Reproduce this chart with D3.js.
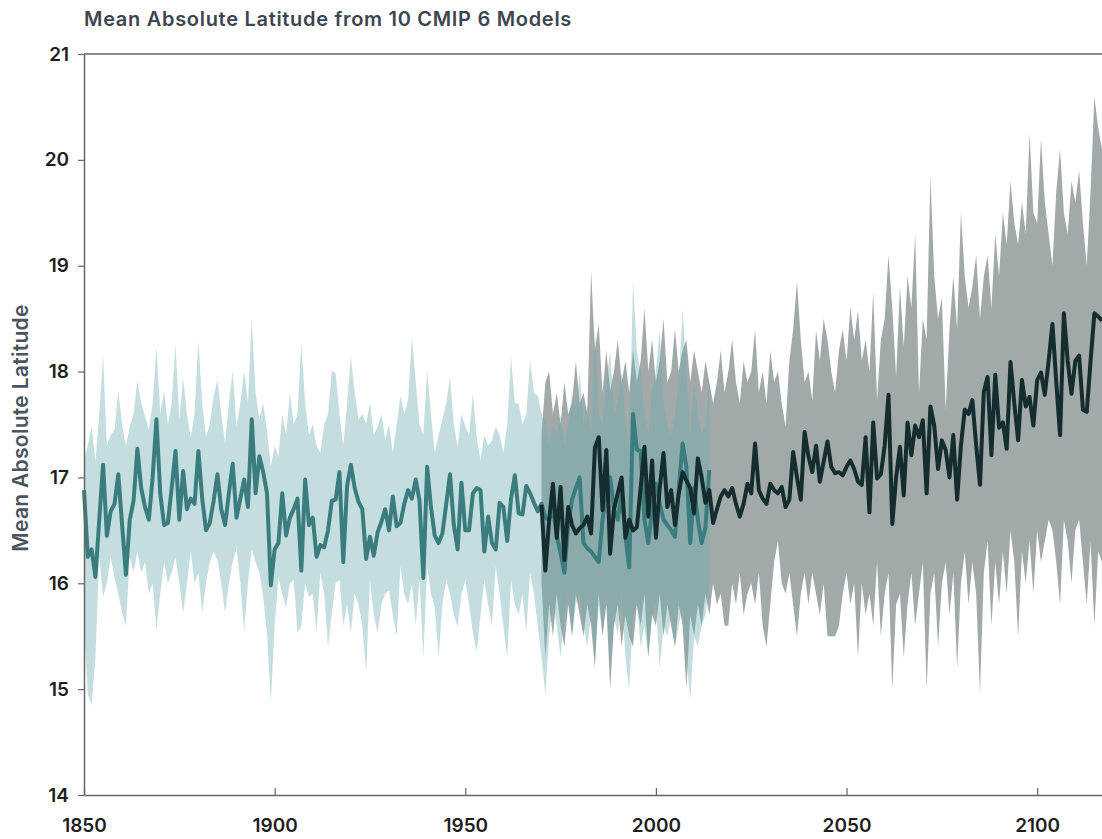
<!DOCTYPE html>
<html>
<head>
<meta charset="utf-8">
<script src="https://cdn.jsdelivr.net/npm/d3@7"></script>
<style>
  body { margin: 0; background: #fff; }
  svg text { font-family: Inter, "Noto Sans", sans-serif; }
</style>
</head>
<body>
<div id="chart"></div>
<script>
// historical runs, 1850-2014
var hist_start = 1850
var hist_mean = [16.88,16.25,16.32,16.06,16.6,17.12,16.45,16.68,16.75,17.03,
  16.55,16.08,16.6,16.78,17.27,16.9,16.72,16.6,17.0,17.55,
  16.85,16.55,16.57,16.9,17.25,16.6,17.06,16.7,16.8,16.75,
  17.25,16.8,16.5,16.57,16.78,17.03,16.7,16.55,16.85,17.13,
  16.62,16.8,16.98,16.72,17.55,16.85,17.2,17.05,16.85,15.98,
  16.32,16.38,16.85,16.45,16.62,16.7,16.8,16.12,16.98,16.55,
  16.62,16.25,16.36,16.34,16.5,16.78,16.79,17.05,16.2,16.92,
  17.12,16.9,16.77,16.7,16.23,16.44,16.26,16.48,16.58,16.7,
  16.5,16.82,16.54,16.57,16.75,16.88,16.8,16.98,16.78,16.05,
  17.1,16.72,16.45,16.38,16.47,16.75,17.03,16.55,16.32,16.95,
  16.5,16.5,16.85,16.9,16.88,16.3,16.63,16.38,16.32,16.76,
  16.72,16.4,16.8,17.02,16.66,16.65,16.92,16.85,16.76,16.68,
  16.75,16.62,16.6,16.7,16.45,16.28,16.1,16.55,16.79,16.9,
  17.0,16.38,16.33,16.3,16.25,16.2,16.6,16.85,17.0,16.7,
  16.6,16.85,16.45,16.15,17.6,17.26,17.25,16.6,16.38,16.7,
  16.94,16.75,16.6,16.55,16.5,16.44,16.9,17.32,17.1,16.38,
  16.9,16.6,16.38,16.53,17.07]
var hist_hi = [17.15,17.3,17.48,17.15,17.6,18.15,17.3,17.4,17.45,17.82,
  17.5,17.3,17.48,17.6,17.92,17.7,17.58,17.45,17.7,18.23,
  17.6,17.82,17.5,17.7,18.26,17.55,17.94,17.6,17.38,17.6,
  18.3,17.7,17.38,17.5,17.77,17.92,17.6,17.32,17.7,18.01,
  17.48,17.7,18.01,17.7,18.5,17.8,17.55,17.7,17.44,17.1,
  17.3,17.2,17.6,17.4,17.8,17.5,17.6,18.27,17.7,17.4,
  17.5,17.3,17.23,17.5,17.6,18.01,17.98,17.6,17.3,17.7,
  18.14,17.8,17.55,17.6,17.51,17.7,17.4,17.48,17.6,17.36,
  17.5,17.23,17.5,17.77,17.6,17.73,18.33,17.9,17.5,17.4,
  18.01,17.6,17.23,17.4,17.55,17.7,17.95,17.5,17.29,17.6,
  17.48,17.4,17.79,17.38,17.16,17.4,17.3,17.35,17.48,17.4,
  17.23,17.5,18.14,17.7,17.7,17.5,17.6,18.11,17.8,17.77,
  17.6,17.5,17.3,17.5,17.4,17.6,17.3,17.5,17.8,17.6,
  18.0,17.5,17.7,17.4,18.4,17.6,17.5,17.9,18.2,17.6,
  17.7,18.0,17.5,17.3,18.85,18.2,18.0,17.6,17.4,17.8,
  18.0,18.4,17.7,17.5,17.4,17.6,17.9,18.6,18.0,17.4,
  17.9,17.6,17.4,17.5,17.9]
var hist_lo = [15.6,14.95,14.85,15.3,16.25,15.87,16.0,16.25,16.05,15.9,
  15.72,15.6,16.25,16.1,16.3,16.1,16.2,15.9,16.0,15.56,
  15.9,16.2,16.0,16.1,16.25,16.0,15.72,16.0,16.3,16.0,
  16.1,15.72,16.0,16.2,16.3,16.22,16.0,15.72,16.0,16.2,
  16.33,16.0,15.55,16.0,16.33,16.2,16.1,15.87,15.53,14.87,
  15.6,16.06,15.9,15.77,16.0,16.03,15.53,15.6,16.0,15.87,
  15.9,15.53,16.1,15.9,15.4,15.72,16.0,16.03,15.6,15.8,
  15.53,15.9,15.8,15.6,15.15,16.03,15.7,15.53,15.8,15.9,
  15.93,15.7,15.5,16.16,15.9,15.8,16.0,15.6,16.03,15.3,
  16.16,15.9,15.77,15.3,15.8,16.03,15.9,15.7,15.59,15.9,
  16.03,15.8,15.53,15.35,15.7,16.03,15.8,15.6,16.16,15.9,
  15.59,15.3,16.03,15.8,15.7,15.9,15.53,16.1,15.9,15.6,
  15.3,14.95,15.5,15.8,15.6,15.3,15.7,15.9,15.5,15.8,
  15.9,15.6,15.4,15.7,15.3,15.8,15.5,15.9,15.2,15.7,
  15.5,15.9,15.3,15.0,15.7,15.8,15.4,15.6,15.3,15.7,
  15.8,15.2,15.6,15.5,15.7,15.4,15.6,15.8,15.3,14.9,
  15.5,15.4,15.6,15.7,16.0]

// scenario runs, 1970 onward
var proj_start = 1970
var proj_mean = [16.74,16.12,16.6,16.94,16.43,16.91,16.22,16.72,16.55,16.47,
  16.52,16.55,16.63,16.47,17.28,17.38,16.69,17.26,16.28,16.7,
  16.85,17.0,16.43,16.6,16.5,16.53,16.9,17.29,16.63,17.16,
  16.43,16.9,17.23,16.72,16.88,16.55,16.85,17.05,16.97,16.9,
  16.66,17.18,17.0,16.76,16.88,16.57,16.7,16.82,16.88,16.82,
  16.9,16.75,16.63,16.75,16.94,16.85,17.32,16.88,16.8,16.75,
  16.94,16.88,16.85,16.91,16.72,16.79,17.24,17.0,16.79,17.43,
  17.2,17.05,17.3,16.96,17.15,17.34,17.1,17.04,17.05,17.02,
  17.1,17.16,17.08,16.96,16.93,17.38,16.67,17.52,16.99,17.03,
  17.3,17.78,16.56,17.0,17.29,16.83,17.52,17.21,17.49,17.38,
  17.54,16.85,17.67,17.49,17.08,17.35,17.26,17.0,17.4,16.79,
  17.3,17.64,17.6,17.73,17.3,16.93,17.81,17.95,17.21,17.97,
  17.47,17.52,17.27,18.09,17.7,17.35,17.92,17.67,17.76,17.49,
  17.92,17.99,17.78,18.1,18.45,17.9,17.4,18.55,18.1,17.79,
  18.1,18.15,17.64,17.62,18.1,18.55,18.52,18.48]
var proj_hi = [17.4,17.9,18.0,17.6,17.8,17.5,17.9,17.6,17.7,18.1,
  17.7,17.8,17.6,18.95,18.2,18.45,17.8,18.2,17.82,18.0,
  18.3,17.9,18.1,17.8,18.2,17.9,18.1,18.6,18.0,18.3,
  17.9,18.1,18.5,17.9,18.0,18.4,18.0,18.2,18.3,17.9,
  18.2,18.0,17.8,18.1,17.9,17.7,17.9,18.2,17.8,18.0,
  18.3,17.9,17.7,18.1,17.9,18.0,18.4,17.8,18.0,17.7,
  18.2,17.9,18.0,17.7,17.48,18.1,18.4,18.85,18.3,17.9,
  18.0,17.73,18.39,18.1,18.5,18.3,18.0,17.8,18.2,18.4,
  18.1,18.61,18.3,18.58,18.1,18.3,18.0,18.75,17.73,18.3,
  18.5,19.1,18.6,17.95,18.8,18.23,18.9,18.6,19.3,17.79,
  18.5,18.3,19.85,18.9,18.5,18.7,17.64,18.4,18.9,18.4,
  19.5,18.9,18.6,18.8,19.1,18.5,18.9,19.1,18.6,19.3,
  18.9,19.5,19.2,19.8,19.4,19.2,19.6,19.3,20.25,19.5,
  19.4,20.2,19.6,19.3,19.0,19.7,20.1,19.5,19.3,19.8,
  19.6,19.9,19.4,19.0,19.7,20.6,20.3,20.1]
var proj_lo = [16.0,15.3,15.8,15.5,15.9,15.6,15.4,15.8,15.5,15.9,
  15.7,15.5,15.8,15.6,15.2,15.9,15.5,15.8,15.0,15.6,
  15.8,15.4,15.7,15.5,15.4,15.8,15.6,15.9,15.3,15.7,
  15.6,15.9,15.5,15.8,15.6,15.4,15.8,15.6,15.0,15.7,
  15.5,15.8,15.6,15.9,15.7,16.0,15.8,15.9,15.6,15.6,
  16.0,15.8,16.1,15.7,15.9,16.0,15.8,16.1,15.6,15.4,
  15.8,16.2,16.4,16.0,15.9,16.1,15.8,15.5,15.9,16.1,
  15.8,16.1,15.9,15.7,16.0,15.5,15.5,15.5,15.6,15.9,
  16.1,15.8,16.0,15.3,16.0,15.7,15.9,15.6,16.2,15.5,
  15.9,16.1,15.0,15.8,15.9,15.3,15.8,16.1,15.6,15.9,
  16.2,15.0,15.9,16.1,15.4,16.0,16.2,15.7,16.1,15.2,
  16.0,16.3,15.8,16.2,15.9,14.95,16.1,16.4,15.6,16.2,
  15.8,16.3,15.9,16.5,16.2,15.5,16.3,16.0,16.4,15.9,
  16.5,16.2,16.4,16.6,16.5,16.2,15.8,16.6,16.4,16.0,
  16.5,16.6,16.2,15.8,16.4,15.6,16.3,16.2]

var x_ticks = [1850, 1900, 1950, 2000, 2050, 2100]
var y_ticks = [14, 15, 16, 17, 18, 19, 20, 21]

var w = 1102, h = 839
var left = 84, top_y = 54, bottom_y = 795

var rows = function(start, mean, lo, hi) {
  return mean.map(function(m, i) {
    return {year: start + i, mean: m, lo: lo[i], hi: hi[i]}
  })
}
var hist = rows(hist_start, hist_mean, hist_lo, hist_hi)
var proj = rows(proj_start, proj_mean, proj_lo, proj_hi)

var x = d3.scaleLinear().domain([1850, 2117]).range([left, w])
var y = d3.scaleLinear().domain([14, 21]).range([bottom_y, top_y])

var svg = d3.select("#chart").append("svg")
  .attr("width", w)
  .attr("height", h)

var band = d3.area()
  .x(function(d){ return x(d.year) })
  .y0(function(d){ return y(d.lo) })
  .y1(function(d){ return y(d.hi) })

var line = d3.line()
  .x(function(d){ return x(d.year) })
  .y(function(d){ return y(d.mean) })

// grey band underneath, teal band washed over it
svg.append("path").datum(proj)
  .attr("d", band)
  .attr("fill", "#a1a9a9")

svg.append("path").datum(hist)
  .attr("d", band)
  .attr("fill", "rgb(108,172,174)")
  .attr("fill-opacity", 0.4)

svg.append("path").datum(hist)
  .attr("d", line)
  .attr("fill", "none")
  .attr("stroke", "#3b7d7f")
  .attr("stroke-width", 4)
  .attr("stroke-linejoin", "round")

svg.append("path").datum(proj)
  .attr("d", line)
  .attr("fill", "none")
  .attr("stroke", "#152d2f")
  .attr("stroke-width", 4)
  .attr("stroke-linejoin", "round")

// frame top
svg.append("line")
  .attr("x1", left).attr("x2", w)
  .attr("y1", top_y).attr("y2", top_y)
  .attr("stroke", "#666").attr("stroke-width", 1.5)

var x_axis = d3.axisBottom(x)
  .tickValues(x_ticks)
  .tickFormat(d3.format("d"))
  .tickSizeInner(-7)
  .tickSizeOuter(0)
  .tickPadding(24)

var gx = svg.append("g")
  .attr("transform", "translate(0," + bottom_y + ")")
  .call(x_axis)

var y_axis = d3.axisLeft(y)
  .tickValues(y_ticks)
  .tickFormat(d3.format("d"))
  .tickSize(6)
  .tickSizeOuter(0)
  .tickPadding(9)

var gy = svg.append("g")
  .attr("transform", "translate(" + left + ",0)")
  .call(y_axis)

svg.selectAll(".domain").attr("stroke", "#666").attr("stroke-width", 1.5)
svg.selectAll(".tick line").attr("stroke", "#666").attr("stroke-width", 1.2)
svg.selectAll(".tick text")
  .attr("font-size", 19)
  .attr("font-weight", 600)
  .attr("fill", "#1e1e1e")
  .style("font-family", "Inter, 'Noto Sans', sans-serif")

svg.append("text")
  .attr("x", left)
  .attr("y", 26)
  .attr("font-size", 20)
  .attr("font-weight", 600)
  .attr("letter-spacing", 0.7)
  .attr("fill", "#3c4650")
  .text("Mean Absolute Latitude from 10 CMIP 6 Models")

svg.append("text")
  .attr("transform", "translate(28,428) rotate(-90)")
  .attr("text-anchor", "middle")
  .attr("font-size", 21)
  .attr("font-weight", 600)
  .attr("letter-spacing", 0.3)
  .attr("fill", "#4a545e")
  .text("Mean Absolute Latitude")
</script>
</body>
</html>
